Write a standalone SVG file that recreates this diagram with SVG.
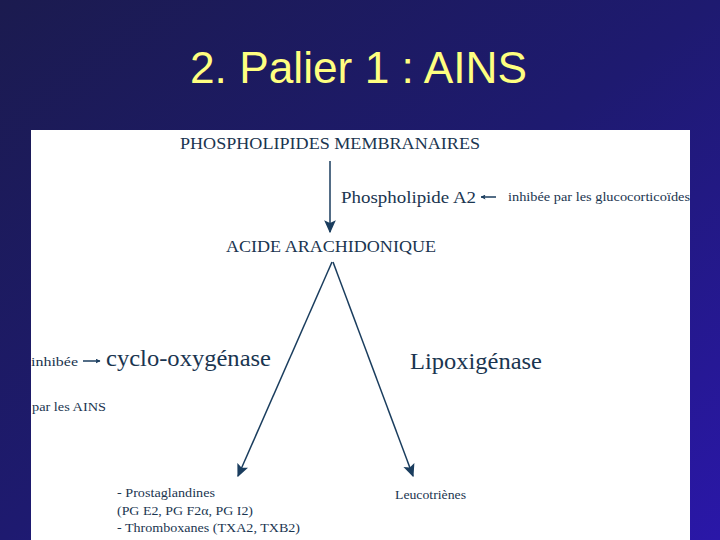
<svg xmlns="http://www.w3.org/2000/svg" width="720" height="540" viewBox="0 0 720 540">
<defs>
<linearGradient id="bg" x1="0" y1="0" x2="1" y2="1">
<stop offset="0" stop-color="#1b1b4f"/>
<stop offset="0.5" stop-color="#1e1a70"/>
<stop offset="1" stop-color="#2a17a8"/>
</linearGradient>
<marker id="ah" viewBox="0 0 10 10" refX="9" refY="5" markerWidth="5" markerHeight="5" orient="auto" markerUnits="userSpaceOnUse">
<path d="M0,0 L10,5 L0,10 L2,5 Z" fill="#1a3d5e"/>
</marker>
<marker id="big" viewBox="0 0 10 10" refX="9" refY="5" markerWidth="13" markerHeight="13" orient="auto" markerUnits="userSpaceOnUse">
<path d="M0,0.5 L10,5 L0,9.5 L2,5 Z" fill="#1a3d5e"/>
</marker>
</defs>
<style>
.t{font-family:"Liberation Serif","DejaVu Serif",serif;fill:#1a3550}
.c{stroke:#1a3d5e;stroke-width:1.5;fill:none}
</style>
<rect width="720" height="540" fill="url(#bg)"/>
<text x="190" y="83" font-family="Liberation Sans, Arial, sans-serif" font-size="45" fill="#ffff80" textLength="337" lengthAdjust="spacingAndGlyphs">2. Palier 1 : AINS</text>
<rect x="31" y="130" width="659" height="410" fill="#ffffff"/>
<g id="connectors">
<line class="c" x1="330" y1="161" x2="330" y2="232" stroke-width="2" marker-end="url(#big)"/>
<line class="c" x1="332" y1="262" x2="238" y2="476" marker-end="url(#big)"/>
<line class="c" x1="333" y1="262" x2="413" y2="476" marker-end="url(#big)"/>
<line class="c" x1="496" y1="197" x2="481" y2="197" stroke-width="1.2" marker-end="url(#ah)"/>
<line class="c" x1="83" y1="361" x2="100" y2="361" stroke-width="1.2" marker-end="url(#ah)"/>
</g>
<g id="phospholipides"><text class="t" x="180" y="149" font-size="17" textLength="300" lengthAdjust="spacingAndGlyphs">PHOSPHOLIPIDES MEMBRANAIRES</text></g>
<g id="pla2"><text class="t" x="341" y="203" font-size="17" textLength="135" lengthAdjust="spacingAndGlyphs">Phospholipide A2</text></g>
<g id="gluco"><text class="t" x="508" y="201" font-size="12" textLength="182" lengthAdjust="spacingAndGlyphs">inhibée par les glucocorticoïdes</text></g>
<g id="acide"><text class="t" x="226" y="252" font-size="17" textLength="210" lengthAdjust="spacingAndGlyphs">ACIDE ARACHIDONIQUE</text></g>
<g id="inhibee"><text class="t" x="31" y="366" font-size="12" textLength="47" lengthAdjust="spacingAndGlyphs">inhibée</text>
<text class="t" x="32" y="411" font-size="13" textLength="74" lengthAdjust="spacingAndGlyphs">par les AINS</text></g>
<g id="cox"><text class="t" x="106" y="366" font-size="23" textLength="165" lengthAdjust="spacingAndGlyphs">cyclo-oxygénase</text></g>
<g id="lipox"><text class="t" x="410" y="369" font-size="23" textLength="132" lengthAdjust="spacingAndGlyphs">Lipoxigénase</text></g>
<g id="prosta">
<text class="t" x="117" y="497" font-size="13" textLength="98" lengthAdjust="spacingAndGlyphs">- Prostaglandines</text>
<text class="t" x="117" y="515" font-size="13" textLength="136" lengthAdjust="spacingAndGlyphs">(PG E2, PG F2α, PG I2)</text>
<text class="t" x="117" y="532" font-size="13" textLength="183" lengthAdjust="spacingAndGlyphs">- Thromboxanes (TXA2, TXB2)</text>
</g>
<g id="leuco"><text class="t" x="395" y="499" font-size="13" textLength="71" lengthAdjust="spacingAndGlyphs">Leucotriènes</text></g>
</svg>
